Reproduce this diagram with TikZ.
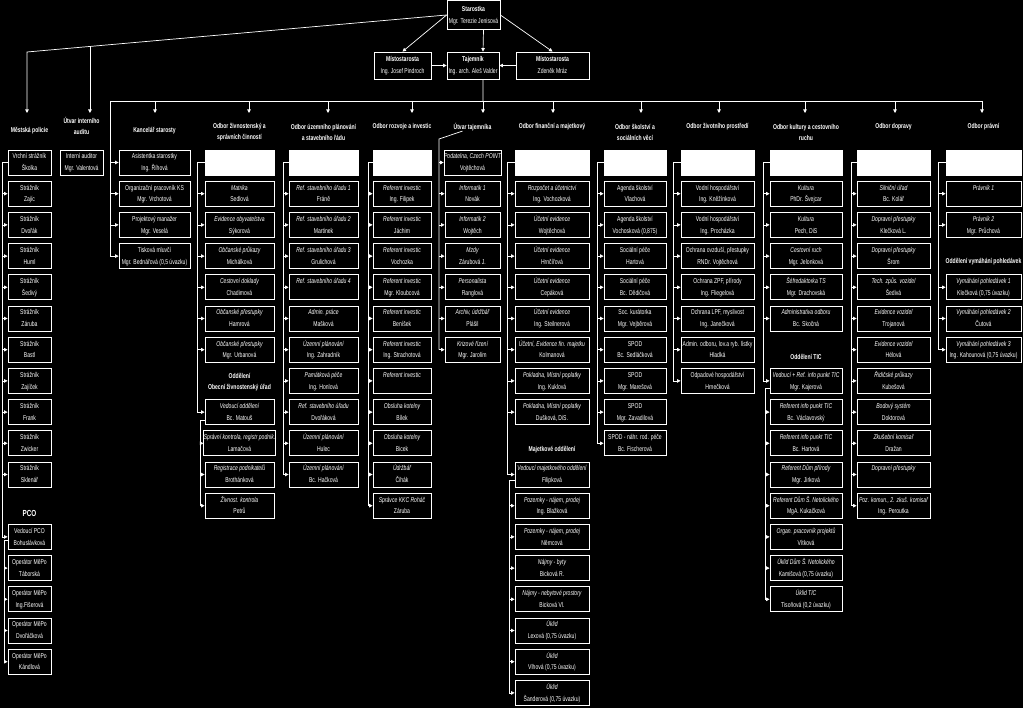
\documentclass[tikz,border=0pt]{standalone}
\usepackage{fontspec}
\newfontfamily\orgfont[FakeStretch=0.72]{Liberation Sans}
\usetikzlibrary{positioning,calc,arrows.meta}
\tikzstyle{every link} = [draw=white, line width=0.6pt]
\tikzstyle{link} = [every link]
\tikzstyle{arr} = [-{Triangle[length=3pt,width=3pt]}, every link]
\tikzstyle{unit} = [draw=white, line width=0.7pt, text=white, inner sep=0pt, minimum height=0.75cm, align=center, font=\orgfont\fontsize{6}{10}\selectfont]
\tikzstyle{lead} = [unit, fill=white]
\tikzstyle{dept} = [text=white, inner sep=0pt, align=center, font=\orgfont\bfseries\fontsize{6}{9.5}\selectfont]
\tikzset{role/.store in=\rolefont, role=}
\newcommand\duty[2]{\strut{\rolefont#1}\\\strut#2}

\begin{document}
\begin{tikzpicture}[x=0.03cm, y=-0.03cm]
\fill[black] (0,0) rectangle (1023,708);
\useasboundingbox (0,0) rectangle (1023,708);

% vedeni
\node[unit, minimum width=1.59cm, minimum height=0.87cm] (staro) at (473.5,15) {\strut\textbf{Starostka}\\\strut Mgr. Terezie Jenisová};
\node[unit, minimum width=1.71cm, minimum height=0.81cm] (mistL) at (402.5,65.5) {\strut\textbf{Místostarosta}\\\strut Ing. Josef Pindroch};
\node[unit, minimum width=1.56cm, minimum height=0.81cm] (tajm) at (473,65.5) {\strut\textbf{Tajemník}\\\strut Ing. arch. Aleš Valder};
\node[unit, minimum width=2.19cm, minimum height=0.81cm] (mistR) at (552.5,65.5) {\strut\textbf{Místostarosta}\\\strut Zdeněk Mráz};
\draw[arr] (staro.west) -- (mistL.north);
\draw[arr] (staro.east) -- (mistR.north);
\draw[arr] ([xshift=0.3cm]staro.south) -- ([xshift=0.3cm]tajm.north);
\draw[arr] (mistL.east) -- (tajm.west);
\draw[arr] (mistR.west) -- (tajm.east);

% odbory - nadpisy
\node[dept] (hdr-pol) at (29.5,131) {Městská policie};
\node[dept] (hdr-aud) at (81.5,125.5) {Útvar interního\\auditu};
\node[dept] (hdr-kan) at (154.5,131) {Kancelář starosty};
\node[dept] (hdr-ziv) at (239.5,132.5) {Odbor živnostenský a\\správních činností};
\node[dept] (hdr-uzp) at (323.5,132.5) {Odbor územního plánování\\a stavebního řádu};
\node[dept] (hdr-roz) at (402,127) {Odbor rozvoje a investic};
\node[dept] (hdr-taj) at (472.5,127) {Útvar tajemníka};
\node[dept] (hdr-fin) at (552,127) {Odbor finanční a majetkový};
\node[dept] (hdr-sko) at (635,132.5) {Odbor školství a\\sociálních věcí};
\node[dept] (hdr-zip) at (717.5,127) {Odbor životního prostředí};
\node[dept] (hdr-kul) at (806,132.5) {Odbor kultury a cestovního\\ruchu};
\node[dept] (hdr-dop) at (893.5,127) {Odbor dopravy};
\node[dept] (hdr-pra) at (983.5,127) {Odbor právní};

% svisle sipky ke odborum
\foreach \n/\x in {pol/27,kan/155,ziv/249,uzp/328,roz/412,taj/483,fin/553,sko/641,zip/719,kul/805,dop/895,pra/982}
  \coordinate (drop-\n) at (\x,113);
\coordinate (bend) at (27,52);
\coordinate (bus) at (110,101);
\draw[arr] (staro.west) -- (bend) -- (drop-pol);
\path ($(bend)!0.15!(staro.west)$) coordinate (audk);
\draw[arr] (audk) -- (audk |- drop-pol);
\draw[link] ([xshift=0.3cm]tajm.south) -- (bus -| drop-taj);
\draw[link] (bus) -- (bus -| drop-pra);
\foreach \n in {kan,ziv,uzp,roz,taj,fin,sko,zip,kul,dop,pra}
  \draw[arr] (bus -| drop-\n) -- (drop-\n);

% Mestska policie
\foreach \k/\r/\n in {0/Vrchní strážník/Školka, 1/Strážník/Zajíc, 2/Strážník/Dvořák, 3/Strážník/Huml, 4/Strážník/Šedivý, 5/Strážník/Záruba, 6/Strážník/Bastl, 7/Strážník/Zajíček, 8/Strážník/Frank, 9/Strážník/Zwicker, 10/Strážník/Sklenář, 12/Vedoucí PCO/Bohuslávková, 13/Operátor MěPo/Táborská, 14/Operátor MěPo/Ing.Fišerová, 15/Operátor MěPo/Dvořáčková, 16/Operátor MěPo/Kándlová}
  \node[unit, minimum width=1.29cm] (pol-\k) at (29.5,{162.5+31.2*\k}) {\duty{\r}{\n}};
\node[dept, font=\orgfont\bfseries\fontsize{7.5}{9}\selectfont] (pco) at (29.5,513) {PCO};
\coordinate (pol-t) at (2,0);
\coordinate (pol-s) at (4,0);
\draw[link] (pol-0.west) -| (pol-t |- pol-12.west);
\foreach \k in {1,2,3,4,5,6,7,8,9,10,12}
  \draw[arr] (pol-t |- pol-\k.west) -- (pol-\k.west);
\draw[link] ([yshift=-3pt]pol-12.west) -| (pol-s |- pol-16.west);
\foreach \k in {13,14,15,16}
  \draw[arr] (pol-s |- pol-\k.west) -- (pol-\k.west);

% Utvar interniho auditu
\node[unit, minimum width=1.29cm] (aud-0) at (81.5,162.5) {\duty{Interní auditor}{Mgr. Valentová}};

% Kancelar starosty
\foreach \k/\r/\n in {0/Asistentka starostky/Ing. Říhová, 1/Organizační pracovník KS/Mgr. Vrchotová, 2/Projektový manažer/Mgr. Veselá, 3/Tisková mluvčí/{Mgr. Bednářová (0,5 úvazku)}}
  \node[unit, minimum width=2.13cm] (kan-\k) at (154.5,{162.5+31.2*\k}) {\duty{\r}{\n}};
\draw[link] (bus) -- (bus |- kan-3.west);
\foreach \k in {0,1,2,3}
  \draw[arr] (bus |- kan-\k.west) -- (kan-\k.west);

% Odbor zivnostensky
\begin{scope}[role=\itshape]
\node[lead, minimum width=2.07cm] (ziv-0) at (239.5,162.5) {};
\foreach \k/\r/\n in {1/Matrika/Sedlová, 2/Evidence obyvatelstva/Sýkorová, 3/Občanské průkazy/Michálková, 4/Cestovní doklady/Chadimová, 5/Občanské přestupky/Hamrová, 6/Občanské přestupky/Mgr. Urbanová, 8/Vedoucí oddělení/Bc. Matouš, 9/{Správní kontrola, registr podnik.}/Lamačová, 10/Registrace podnikatelů/Brothánková, 11/Živnost. kontrola/Petrů}
  \node[unit, minimum width=2.07cm] (ziv-\k) at (239.5,{162.5+31.2*\k}) {\duty{\r}{\n}};
\end{scope}
\node[dept] (ziv-odd) at (239.5,382.5) {Oddělení\\Obecní živnostenský úřad};
\coordinate (ziv-t) at (197,0);
\coordinate (ziv-s) at (200,0);
\draw[link] (ziv-0.west) -| (ziv-t |- ziv-8.west);
\foreach \k in {1,2,3,4,5,6,8}
  \draw[arr] (ziv-t |- ziv-\k.west) -- (ziv-\k.west);
\draw[link] ([yshift=-7pt]ziv-8.west) -| (ziv-s |- ziv-11.west);
\foreach \k in {9,10,11}
  \draw[arr] (ziv-s |- ziv-\k.west) -- (ziv-\k.west);

% Odbor uzemniho planovani
\begin{scope}[role=\itshape]
\node[lead, minimum width=2.07cm] (uzp-0) at (323.5,162.5) {};
\foreach \k/\r/\n in {1/Ref. stavebního úřadu 1/Fráně, 2/Ref. stavebního úřadu 2/Martinek, 3/Ref. stavebního úřadu 3/Grulichová, 4/Ref. stavebního úřadu 4/{}, 5/Admin. práce/Mašková, 6/Územní plánování/Ing. Zahradník, 7/Památková péče/Ing. Honlová, 8/Ref. stavebního úřadu/Dvořáková, 9/Územní plánování/Hulec, 10/Územní plánování/Bc. Hačková}
  \node[unit, minimum width=2.07cm] (uzp-\k) at (323.5,{162.5+31.2*\k}) {\duty{\r}{\n}};
\end{scope}
\coordinate (uzp-t) at (283,0);
\draw[link] (uzp-0.west) -| (uzp-t |- uzp-10.west);
\foreach \k in {1,...,10}
  \draw[arr] (uzp-t |- uzp-\k.west) -- (uzp-\k.west);

% Odbor rozvoje a investic
\begin{scope}[role=\itshape]
\node[lead, minimum width=1.74cm] (roz-0) at (402,162.5) {};
\foreach \k/\r/\n in {1/Referent investic/Ing. Filipek, 2/Referent investic/Jáchim, 3/Referent investic/Vochozka, 4/Referent investic/Mgr. Kloubcová, 5/Referent investic/Beníšek, 6/Referent investic/Ing. Strachotová, 7/Referent investic/{}, 8/Obsluha kotelny/Bílek, 9/Obsluha kotelny/Bicek, 10/Údržbář/Čihák, 11/Správce KKC Roháč/Záruba}
  \node[unit, minimum width=1.74cm] (roz-\k) at (402,{162.5+31.2*\k}) {\duty{\r}{\n}};
\end{scope}
\coordinate (roz-t) at (368,0);
\draw[link] (roz-0.west) -| (roz-t |- roz-11.west);
\foreach \k in {1,...,11}
  \draw[arr] (roz-t |- roz-\k.west) -- (roz-\k.west);

% Utvar tajemnika
\begin{scope}[role=\itshape]
\foreach \k/\r/\n in {0/{Podatelna, Czech POINT}/Vojtěchová, 1/Informatik 1/Novák, 2/Informatik 2/Wojtěch, 3/Mzdy/Zárubová J., 4/Personalista/Ranglová, 5/{Archiv, údržbář}/Plášil, 6/Krizové řízení/Mgr. Jarolím}
  \node[unit, minimum width=1.65cm] (taj-\k) at (472.5,{162.5+31.2*\k}) {\duty{\r}{\n}};
\end{scope}
\coordinate (taj-t) at (439,139);
\draw[link] ([xshift=-0.3cm]hdr-taj.south) -- (taj-t) -- (taj-t |- taj-6.west);
\foreach \k in {0,...,6}
  \draw[arr] (taj-t |- taj-\k.west) -- (taj-\k.west);

% Odbor financni a majetkovy
\begin{scope}[role=\itshape]
\node[lead, minimum width=2.22cm] (fin-0) at (552,162.5) {};
\foreach \k/\r/\n in {1/Rozpočet a účetnictví/Ing. Vochozková, 2/Účetní evidence/Wojtěchová, 3/Účetní evidence/Hrnčířová, 4/Účetní evidence/Cepáková, 5/Účetní evidence/Ing. Steilnerová, 6/{Účetní, Evidence fin. majetku}/Kolmanová, 7/{Pokladna, Místní poplatky}/Ing. Kuklová, 8/{Pokladna, Místní poplatky}/{Dušková, DiS.}, 10/Vedoucí majetkového oddělení/Filipková, 11/{Pozemky - nájem, prodej}/Ing. Blažková, 12/{Pozemky - nájem, prodej}/Němcová, 13/Nájmy - byty/Bicková R., 14/Nájmy - nebytové prostory/Bicková Vl., 15/Úklid/{Lexová (0,75 úvazku)}, 16/Úklid/{Vlhová (0,75 úvazku)}, 17/Úklid/{Šanderová (0,75 úvazku)}}
  \node[unit, minimum width=2.22cm] (fin-\k) at (552,{162.5+31.2*\k}) {\duty{\r}{\n}};
\end{scope}
\node[dept] (fin-odd) at (552,450) {Majetkové oddělení};
\coordinate (fin-t) at (507,0);
\coordinate (fin-s) at (509,0);
\draw[link] (fin-0.west) -| (fin-t |- fin-10.west);
\foreach \k in {1,2,3,4,5,6,7,8,10}
  \draw[arr] (fin-t |- fin-\k.west) -- (fin-\k.west);
\draw[link] ([yshift=-5pt]fin-10.west) -| (fin-s |- fin-17.west);
\foreach \k in {11,...,17}
  \draw[arr] (fin-s |- fin-\k.west) -- (fin-\k.west);

% Odbor skolstvi a socialnich veci
\node[lead, minimum width=1.86cm] (sko-0) at (635,162.5) {};
\foreach \k/\r/\n in {1/Agenda školství/Vlachová, 2/Agenda školství/{Vochosková (0,875)}, 3/Sociální péče/Hartová, 4/Sociální péče/Bc. Dědičová, 5/Soc. kurátorka/Mgr. Vejběrová, 6/SPOD/Bc. Sedláčková, 7/SPOD/Mgr. Marešová, 8/SPOD/Mgr. Zavadilová, 9/SPOD - náhr. rod. péče/Bc. Fischerová}
  \node[unit, minimum width=1.86cm] (sko-\k) at (635,{162.5+31.2*\k}) {\duty{\r}{\n}};
\coordinate (sko-t) at (597,0);
\draw[link] (sko-0.west) -| (sko-t |- sko-9.west);
\foreach \k in {1,...,9}
  \draw[arr] (sko-t |- sko-\k.west) -- (sko-\k.west);

% Odbor zivotniho prostredi
\node[lead, minimum width=2.19cm] (zip-0) at (717.5,162.5) {};
\foreach \k/\r/\n in {1/Vodní hospodářství/Ing. Kněžínková, 2/Vodní hospodářství/Ing. Procházka, 3/{Ochrana ovzduší, přestupky}/RNDr. Vojtěchová, 4/{Ochrana ZPF, přírody}/Ing. Fliegelová, 5/{Ochrana LPF, myslivost}/Ing. Janečková, 6/{Admin. odboru, lov.a ryb. lístky}/Hladká, 7/Odpadové hospodářství/Hrnečková}
  \node[unit, minimum width=2.19cm] (zip-\k) at (717.5,{162.5+31.2*\k}) {\duty{\r}{\n}};
\coordinate (zip-t) at (673,0);
\draw[link] (zip-0.west) -| (zip-t |- zip-7.west);
\foreach \k in {1,...,7}
  \draw[arr] (zip-t |- zip-\k.west) -- (zip-\k.west);

% Odbor kultury a cestovniho ruchu
\begin{scope}[role=\itshape]
\node[lead, minimum width=2.16cm] (kul-0) at (806,162.5) {};
\foreach \k/\r/\n in {1/Kultura/PhDr. Švejcar, 2/Kultura/{Pech, DiS}, 3/Cestovní ruch/Mgr. Jelonková, 4/Šéfredaktorka TS/Mgr. Drachovská, 5/Administrativa odboru/Bc. Skočná, 7/Vedoucí + Ref. info punkt TIC/Mgr. Kajerová, 8/Referent info punkt TIC/Bc. Václavovský, 9/Referent info punkt TIC/Bc. Hartová, 10/Referent Dům přírody/Mgr. Jirková, 11/Referent Dům Š. Netolického/MgA. Kukačková, 12/Organ. pracovník projektů/Vítková, 13/Úklid Dům Š. Netolického/{Kamišová (0,75 úvazku)}, 14/Úklid TIC/{Tisoňová (0,2 úvazku)}}
  \node[unit, minimum width=2.16cm] (kul-\k) at (806,{162.5+31.2*\k}) {\duty{\r}{\n}};
\end{scope}
\node[dept] (kul-odd) at (806,357) {Oddělení TIC};
\coordinate (kul-t) at (763,0);
\coordinate (kul-s) at (765,0);
\draw[link] (kul-0.west) -| (kul-t |- kul-7.west);
\foreach \k in {1,2,3,4,5,7}
  \draw[arr] (kul-t |- kul-\k.west) -- (kul-\k.west);
\draw[link] ([yshift=-6pt]kul-7.west) -| (kul-s |- kul-14.west);
\foreach \k in {8,...,14}
  \draw[arr] (kul-s |- kul-\k.west) -- (kul-\k.west);

% Odbor dopravy
\begin{scope}[role=\itshape]
\node[lead, minimum width=2.19cm] (dop-0) at (893.5,162.5) {};
\foreach \k/\r/\n in {1/Silniční úřad/Bc. Kolář, 2/Dopravní přestupky/Klečková L., 3/Dopravní přestupky/Šrom, 4/Tech. způs. vozidel/Šedivá, 5/Evidence vozidel/Trojanová, 6/Evidence vozidel/Hélová, 7/Řidičské průkazy/Kubešová, 8/Bodový systém/Doktorová, 9/Zkušební komisař/Dražan, 10/Dopravní přestupky/{}, 11/{Poz. komun., 2. zkuš. komisař}/Ing. Peroutka}
  \node[unit, minimum width=2.19cm] (dop-\k) at (893.5,{162.5+31.2*\k}) {\duty{\r}{\n}};
\end{scope}
\coordinate (dop-t) at (851,0);
\draw[link] (dop-0.west) -| (dop-t |- dop-11.west);
\foreach \k in {1,...,11}
  \draw[arr] (dop-t |- dop-\k.west) -- (dop-\k.west);

% Odbor pravni
\begin{scope}[role=\itshape]
\node[lead, minimum width=2.25cm] (pra-0) at (983.5,162.5) {};
\foreach \k/\r/\n in {1/Právník 1/{}, 2/Právník 2/Mgr. Průchová, 4/Vymáhání pohledávek 1/{Klečková (0,75 úvazku)}, 5/Vymáhání pohledávek 2/Čutová, 6/Vymáhání pohledávek 3/{Ing. Kahounová (0,75 úvazku)}}
  \node[unit, minimum width=2.25cm] (pra-\k) at (983.5,{162.5+31.2*\k}) {\duty{\r}{\n}};
\end{scope}
\node[dept] (pra-odd) at (983.5,262) {Oddělení vymáhání pohledávek};
\coordinate (pra-t) at (938,0);
\draw[link] (pra-0.west) -| (pra-t |- pra-6.west);
\foreach \k in {1,2,4,5,6}
  \draw[arr] (pra-t |- pra-\k.west) -- (pra-\k.west);
\end{tikzpicture}
\end{document}
